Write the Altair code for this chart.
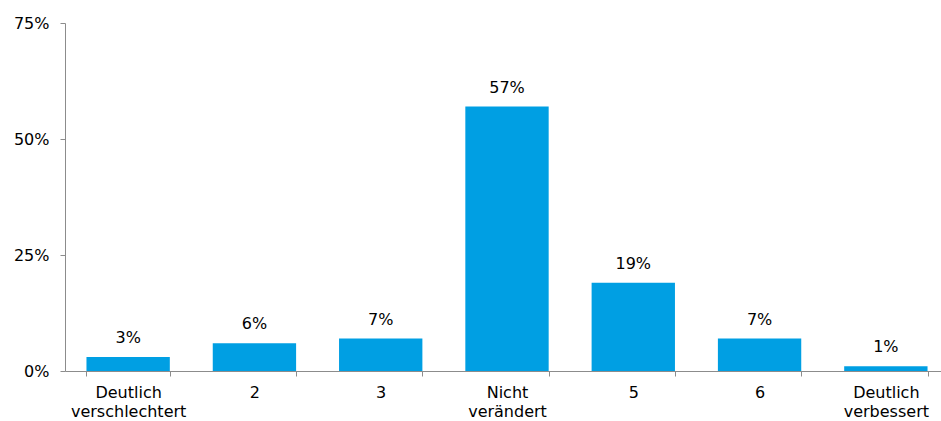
import altair as alt
import pandas as pd

categories = ["Deutlich verschlechtert", "2", "3", "Nicht verändert", "5", "6", "Deutlich verbessert"]
shares = [3, 6, 7, 57, 19, 7, 1]

df = pd.DataFrame({"kategorie": categories, "anteil": shares})

FONT = "DejaVu Sans"
BLUE = "#009FE3"
AXIS_GRAY = "#8C8C8C"

# the category axis runs a little past the right edge of the canvas
x_enc = alt.X(
    "kategorie:N",
    sort=categories,
    scale=alt.Scale(paddingInner=0.34, paddingOuter=0.17, range=[0, 884]),
    axis=alt.Axis(
        title=None,
        labelAngle=0,
        tickBand="extent",
        labelExpr="split(datum.label, ' ')",
        labelFont=FONT,
        labelFontSize=16,
        labelColor="#000000",
        labelPadding=8,
        labelLineHeight=19,
        labelBaseline="top",
        domainColor=AXIS_GRAY,
        tickColor=AXIS_GRAY,
        tickSize=5,
        grid=False,
    ),
)

y_enc = alt.Y(
    "anteil:Q",
    scale=alt.Scale(domain=[0, 75], nice=False),
    axis=alt.Axis(
        title=None,
        values=[0, 25, 50, 75],
        labelExpr="datum.value + '%'",
        labelFont=FONT,
        labelFontSize=16,
        labelColor="#000000",
        labelPadding=11,
        domainColor=AXIS_GRAY,
        tickColor=AXIS_GRAY,
        tickSize=5,
        grid=False,
    ),
)

base = alt.Chart(df).encode(x=x_enc, y=y_enc)

bars = base.mark_bar(color=BLUE)

labels = base.transform_calculate(
    txt="datum.anteil + '%'"
).mark_text(
    font=FONT, fontSize=16, color="#000000", baseline="alphabetic", dy=-14
).encode(text="txt:N")

chart = (
    alt.layer(bars, labels)
    .properties(
        width=875,
        height=348,
        padding={"left": 65, "top": 23, "right": 1, "bottom": 50},
        autosize=alt.AutoSizeParams(type="none"),
    )
    .configure(background="white", view=alt.ViewConfig(stroke="transparent"))
)

chart.save("out.html", embed_options={"renderer": "svg", "actions": False})
